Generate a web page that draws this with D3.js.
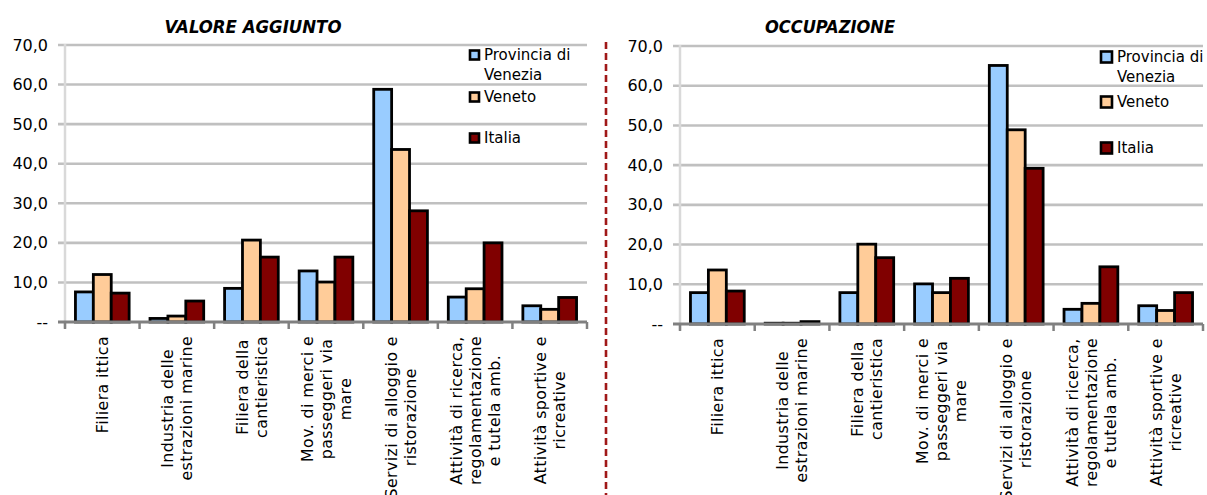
<!DOCTYPE html>
<html>
<head>
<meta charset="utf-8">
<script src="https://cdn.jsdelivr.net/npm/d3@7"></script>
<style>
  body { margin: 0; background: #fff; }
  svg { display: block; font-family: "DejaVu Sans", Verdana, sans-serif; }
</style>
</head>
<body>
<svg id="chart" width="1207" height="495"></svg>
<script>
// categorie (asse x), righe separate con "|"
const categorie = [
  'Filiera ittica',
  'Industria delle|estrazioni marine',
  'Filiera della|cantieristica',
  'Mov. di merci e|passeggeri via|mare',
  'Servizi di alloggio e|ristorazione',
  'Attività di ricerca,|regolamentazione|e tutela amb.',
  'Attività sportive e|ricreative'
];
const serie = ['Provincia di Venezia', 'Veneto', 'Italia'];
const colori = ['#99ccff', '#ffcc99', '#800000'];
const tickY = [0, 10, 20, 30, 40, 50, 60, 70];

// VALORE AGGIUNTO
const vaProvincia = [7.6, 0.9, 8.5, 12.9, 58.8, 6.3, 4.1];
const vaVeneto    = [12.0, 1.5, 20.7, 10.1, 43.6, 8.4, 3.2];
const vaItalia    = [7.3, 5.3, 16.4, 16.4, 28.1, 20.0, 6.2];

// OCCUPAZIONE
const occProvincia = [7.9, 0.2, 7.9, 10.1, 65.1, 3.7, 4.6];
const occVeneto    = [13.6, 0.2, 20.1, 7.9, 48.9, 5.2, 3.4];
const occItalia    = [8.3, 0.6, 16.7, 11.5, 39.2, 14.4, 7.9];

const svg = d3.select('#chart');

const drawPanel = (cfg) => {
  const g = svg.append('g');
  const x = d3.scaleBand().domain(d3.range(categorie.length)).range([cfg.x0, cfg.x1]);
  const y = d3.scaleLinear().domain([0, 70]).range([cfg.y0, cfg.y1]);
  const bw = x.bandwidth();
  const xs = d3.scaleBand().domain(d3.range(serie.length))
    .range([bw * 0.14, bw * 0.86]);

  // griglia
  g.selectAll('.grid').data(tickY.filter(t => t > 0)).enter().append('line')
    .attr('x1', cfg.x0 - 7).attr('x2', cfg.x1)
    .attr('y1', d => y(d)).attr('y2', d => y(d))
    .attr('stroke', '#c0c0c0').attr('stroke-width', 2.6);

  // asse y
  g.append('line')
    .attr('x1', cfg.x0).attr('x2', cfg.x0)
    .attr('y1', y(70) - 1).attr('y2', cfg.y0 + 6)
    .attr('stroke', '#d9d9d9').attr('stroke-width', 2.5);

  g.selectAll('.ylab').data(tickY).enter().append('text')
    .attr('x', cfg.x0 - 17).attr('y', d => y(d)).attr('dy', '0.35em')
    .attr('text-anchor', 'end').attr('font-size', 16).attr('fill', '#000')
    .text(d => d === 0 ? '--' : d.toFixed(1).replace('.', ','));

  // barre
  const valori = [cfg.prov, cfg.ven, cfg.ita];
  const gr = g.selectAll('.cat').data(categorie).enter().append('g')
    .attr('transform', (d, i) => `translate(${x(i)},0)`);
  gr.selectAll('rect').data((d, i) => valori.map((v, s) => ({ s: s, v: v[i] })))
    .enter().append('rect')
    .attr('x', d => xs(d.s)).attr('width', xs.bandwidth())
    .attr('y', d => y(d.v)).attr('height', d => y(0) - y(d.v))
    .attr('fill', d => colori[d.s])
    .attr('stroke', '#000').attr('stroke-width', 2.8);

  // asse x
  g.append('line')
    .attr('x1', cfg.x0 - 7).attr('x2', cfg.x1)
    .attr('y1', y(0)).attr('y2', y(0))
    .attr('stroke', '#808080').attr('stroke-width', 3);
  g.selectAll('.xtick').data(d3.range(categorie.length + 1)).enter().append('line')
    .attr('x1', d => cfg.x0 + d * bw).attr('x2', d => cfg.x0 + d * bw)
    .attr('y1', y(0)).attr('y2', y(0) + 7)
    .attr('stroke', '#808080').attr('stroke-width', 2.5);

  // etichette ruotate
  categorie.forEach((c, i) => {
    const righe = c.split('|');
    const cx = x(i) + bw / 2;
    const lh = 19;
    const tg = g.append('g');
    const testi = righe.map((r, k) => tg.append('text')
      .attr('font-size', 15.8).attr('letter-spacing', 0.4).attr('text-anchor', 'middle')
      .attr('dy', '0.36em').text(r));
    const maxLen = d3.max(testi, t => t.node().getComputedTextLength());
    const yc = cfg.y0 + 14 + maxLen / 2;
    testi.forEach((t, k) => {
      const lx = cx + (k - (righe.length - 1) / 2) * lh;
      t.attr('transform', `translate(${lx},${yc}) rotate(-90)`);
    });
  });

  // titolo
  g.append('text')
    .attr('x', cfg.tx).attr('y', 33).attr('text-anchor', 'middle')
    .attr('font-family', '"DejaVu Sans Condensed", "DejaVu Sans", sans-serif')
    .attr('font-weight', 'bold').attr('font-style', 'italic').attr('font-size', 18.5)
    .attr('textLength', cfg.tw).attr('lengthAdjust', 'spacingAndGlyphs')
    .text(cfg.titolo);

  // legenda
  const lg = g.append('g');
  cfg.leg.forEach((ly, s) => {
    lg.append('rect')
      .attr('x', cfg.lx).attr('y', ly - cfg.ls / 2)
      .attr('width', cfg.ls).attr('height', cfg.ls)
      .attr('fill', colori[s]).attr('stroke', '#000').attr('stroke-width', 2.6);
  });
  const nomi = [['Provincia di', 'Venezia'], ['Veneto'], ['Italia']];
  nomi.forEach((n, s) => {
    n.forEach((r, k) => {
      lg.append('text')
        .attr('x', cfg.lx + cfg.ls + 5).attr('y', cfg.leg[s] + 5 + k * 20)
        .attr('font-size', 15).attr('fill', '#000').text(r);
    });
  });
};

drawPanel({
  x0: 65, x1: 587, y0: 322, y1: 45,
  prov: vaProvincia, ven: vaVeneto, ita: vaItalia,
  titolo: 'VALORE AGGIUNTO', tx: 253, tw: 177,
  lx: 470, ls: 9, leg: [55, 97, 138]
});

drawPanel({
  x0: 680, x1: 1203, y0: 324, y1: 46,
  prov: occProvincia, ven: occVeneto, ita: occItalia,
  titolo: 'OCCUPAZIONE', tx: 830, tw: 130,
  lx: 1101, ls: 11, leg: [57, 102, 148]
});

// separatore tratteggiato
svg.append('line')
  .attr('x1', 606).attr('x2', 606).attr('y1', 42).attr('y2', 495)
  .attr('stroke', '#a01818').attr('stroke-width', 2.6)
  .attr('stroke-dasharray', '7,4');
</script>
</body>
</html>
